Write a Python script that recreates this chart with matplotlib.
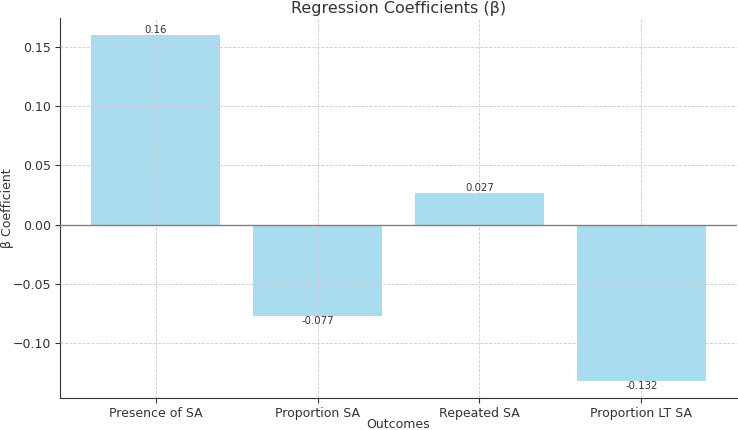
import matplotlib
matplotlib.use("Agg")
import matplotlib.pyplot as plt

categories = ["Presence of SA", "Proportion SA", "Repeated SA", "Proportion LT SA"]
coefficients = [0.16, -0.077, 0.027, -0.132]
value_labels = ["0.16", "-0.077", "0.027", "-0.132"]

plt.rcParams['font.family'] = ['DejaVu Sans']
fig = plt.figure(figsize=(7.38, 4.30), dpi=100)
ax = fig.add_axes([60/738, 1-398/430, (737-60)/738, (398-18)/430])

bars = ax.bar(categories, coefficients, color='skyblue', alpha=0.7, width=0.8, zorder=2)
ax.axhline(0, color='gray', linewidth=1, zorder=3)
ax.grid(True, linestyle='--', color='#cccccc', linewidth=0.6, zorder=4)
ax.set_axisbelow(False)

for b, v, lab in zip(bars, coefficients, value_labels):
    x = b.get_x() + b.get_width()/2
    if v >= 0:
        ax.text(x, v, lab, ha='center', va='bottom', fontsize=7.3, color='#333333', zorder=5)
    else:
        ax.text(x, v, lab, ha='center', va='top', fontsize=7.3, color='#333333', zorder=5)

ax.set_title("Regression Coefficients (β)", fontsize=11.5, color='#333333', pad=3.5)
ax.set_xlabel("Outcomes", fontsize=9, color='#333333', va='center')
ax.set_ylabel("β Coefficient", fontsize=9, color='#333333', va='center')
ax.xaxis.set_label_coords(0.5, -0.071)
ax.yaxis.set_label_coords(-0.077, 0.5)
ax.spines['top'].set_visible(False)
ax.spines['right'].set_visible(False)
for s in ['left', 'bottom']:
    ax.spines[s].set_color('#333333')
ax.tick_params(colors='#333333', labelsize=9, length=3.5, pad=3)
ax.set_yticks([-0.10, -0.05, 0.0, 0.05, 0.10, 0.15])

fig.savefig("out.png", dpi=100)
